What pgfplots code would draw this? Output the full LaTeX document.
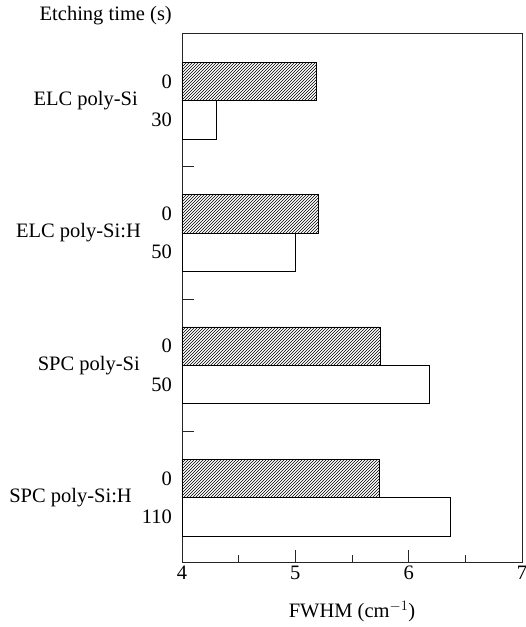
\documentclass[border=0pt]{standalone}
\usepackage{fontspec}
\setmainfont{Liberation Serif}
\usepackage{pgfplots}
\pgfplotsset{compat=1.18}
\usetikzlibrary{patterns}

\begin{document}
\begin{tikzpicture}[font=\fontsize{20.5}{24}\selectfont,
  lbl/.style={anchor=east, inner sep=0pt}]
\useasboundingbox (-182pt,-64.3pt) rectangle (344pt,562.7pt);
\begin{axis}[
  xbar, bar width=0.29, bar shift=0,
  at={(0,0)}, anchor=south west,
  scale only axis,
  width=340pt, height=529.4pt,
  xmin=4, xmax=7,
  ymin=-0.491, ymax=3.509,
  axis line style={line width=0.8pt, black!85},
  tick pos=left,
  tick align=inside,
  xtick align=inside,
  ytick align=inside,
  xtick={4,5,6,7},
  minor xtick={4.5,5.5,6.5},
  major tick length=12.5pt,
  minor tick length=8pt,
  every tick/.style={line width=0.8pt, black!85},
  ytick={0.5,1.5,2.5},
  yticklabels={},
  /pgf/number format/assume math mode=true,
  xlabel={FWHM (cm$^{-1}$)},
  xlabel style={at={(axis description cs:0.5,0)}, anchor=base, yshift=-55pt},
  clip mode=individual,
]
% as-deposited films (0 s etching)
\addplot[draw=black, line width=0.9pt, pattern=north east lines]
  coordinates {(5.19,3.145) (5.20,2.145) (5.75,1.145) (5.74,0.145)};
% after etching
\addplot[draw=black, line width=0.8pt, fill=white]
  coordinates {(4.30,2.855) (5.00,1.855) (6.18,0.855) (6.37,-0.145)};

% etching times beside each bar
\node[lbl, xshift=-10pt] at (axis cs:4,3.145) {0};
\node[lbl, xshift=-10pt] at (axis cs:4,2.855) {30};
\node[lbl, xshift=-10pt] at (axis cs:4,2.145) {0};
\node[lbl, xshift=-10pt] at (axis cs:4,1.855) {50};
\node[lbl, xshift=-10pt] at (axis cs:4,1.145) {0};
\node[lbl, xshift=-10pt] at (axis cs:4,0.855) {50};
\node[lbl, xshift=-10pt] at (axis cs:4,0.145) {0};
\node[lbl, xshift=-10pt] at (axis cs:4,-0.145) {110};

% sample names
\node[lbl, xshift=-44pt] at (axis cs:4,3) {ELC poly-Si};
\node[lbl, xshift=-41pt] at (axis cs:4,2) {ELC poly-Si:H};
\node[lbl, xshift=-42pt] at (axis cs:4,1) {SPC poly-Si};
\node[lbl, xshift=-50pt] at (axis cs:4,0) {SPC poly-Si:H};

\node[anchor=base east, inner sep=0pt, xshift=-10pt, yshift=12.6pt] at (rel axis cs:0,1) {Etching time (s)};
\end{axis}
\end{tikzpicture}
\end{document}
